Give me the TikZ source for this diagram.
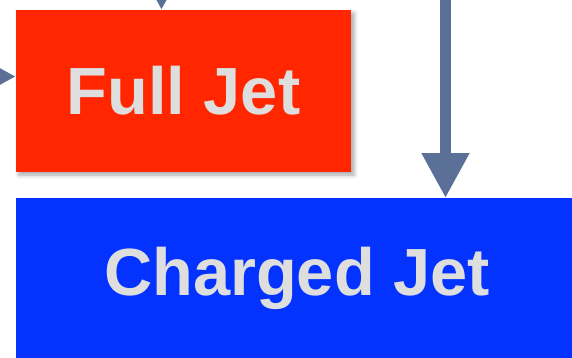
\documentclass[tikz,border=0pt]{standalone}
\usepackage{fontspec}
\setmainfont{Liberation Sans}
\usetikzlibrary{arrows.meta,shadows.blur}
\definecolor{arrowc}{HTML}{5B7096}
\definecolor{boxred}{HTML}{FF2600}
\definecolor{boxblue}{HTML}{0433FF}
\definecolor{textgray}{HTML}{DEDEDE}
\tikzset{
  jetbox/.style={rectangle, inner sep=0pt, outer sep=0pt, text=textgray,
    font=\fontsize{67}{67}\selectfont\bfseries},
  conn/.style={draw=arrowc, line width=11bp,
    -{Triangle[width=45bp,length=45bp,fill=arrowc]}}
}
\begin{document}
\begin{tikzpicture}[x=1bp,y=-1bp]
\useasboundingbox (0,0) rectangle (572,357);
\clip (0,0) rectangle (572,357);
\node[jetbox, fill=boxred, minimum width=335bp, minimum height=162bp,
  blur shadow={shadow xshift=3bp, shadow yshift=-3bp, shadow blur radius=4bp, shadow opacity=35}]
  (full) at (183.5,91) {Full Jet};
\node[jetbox, fill=boxblue, minimum width=562bp, minimum height=160bp]
  (charged) at (297,278) {Charged Jet};
\coordinate (topsrc) at (161.5,-60);
\coordinate (leftsrc) at (-60,76.5);
\coordinate (bigsrc) at (445.5,-30);
\draw[conn] (topsrc) -- (topsrc |- full.north);
\draw[conn] (leftsrc) -- (leftsrc -| full.west);
\draw[conn] (bigsrc) -- (bigsrc |- charged.north);
\end{tikzpicture}
\end{document}
